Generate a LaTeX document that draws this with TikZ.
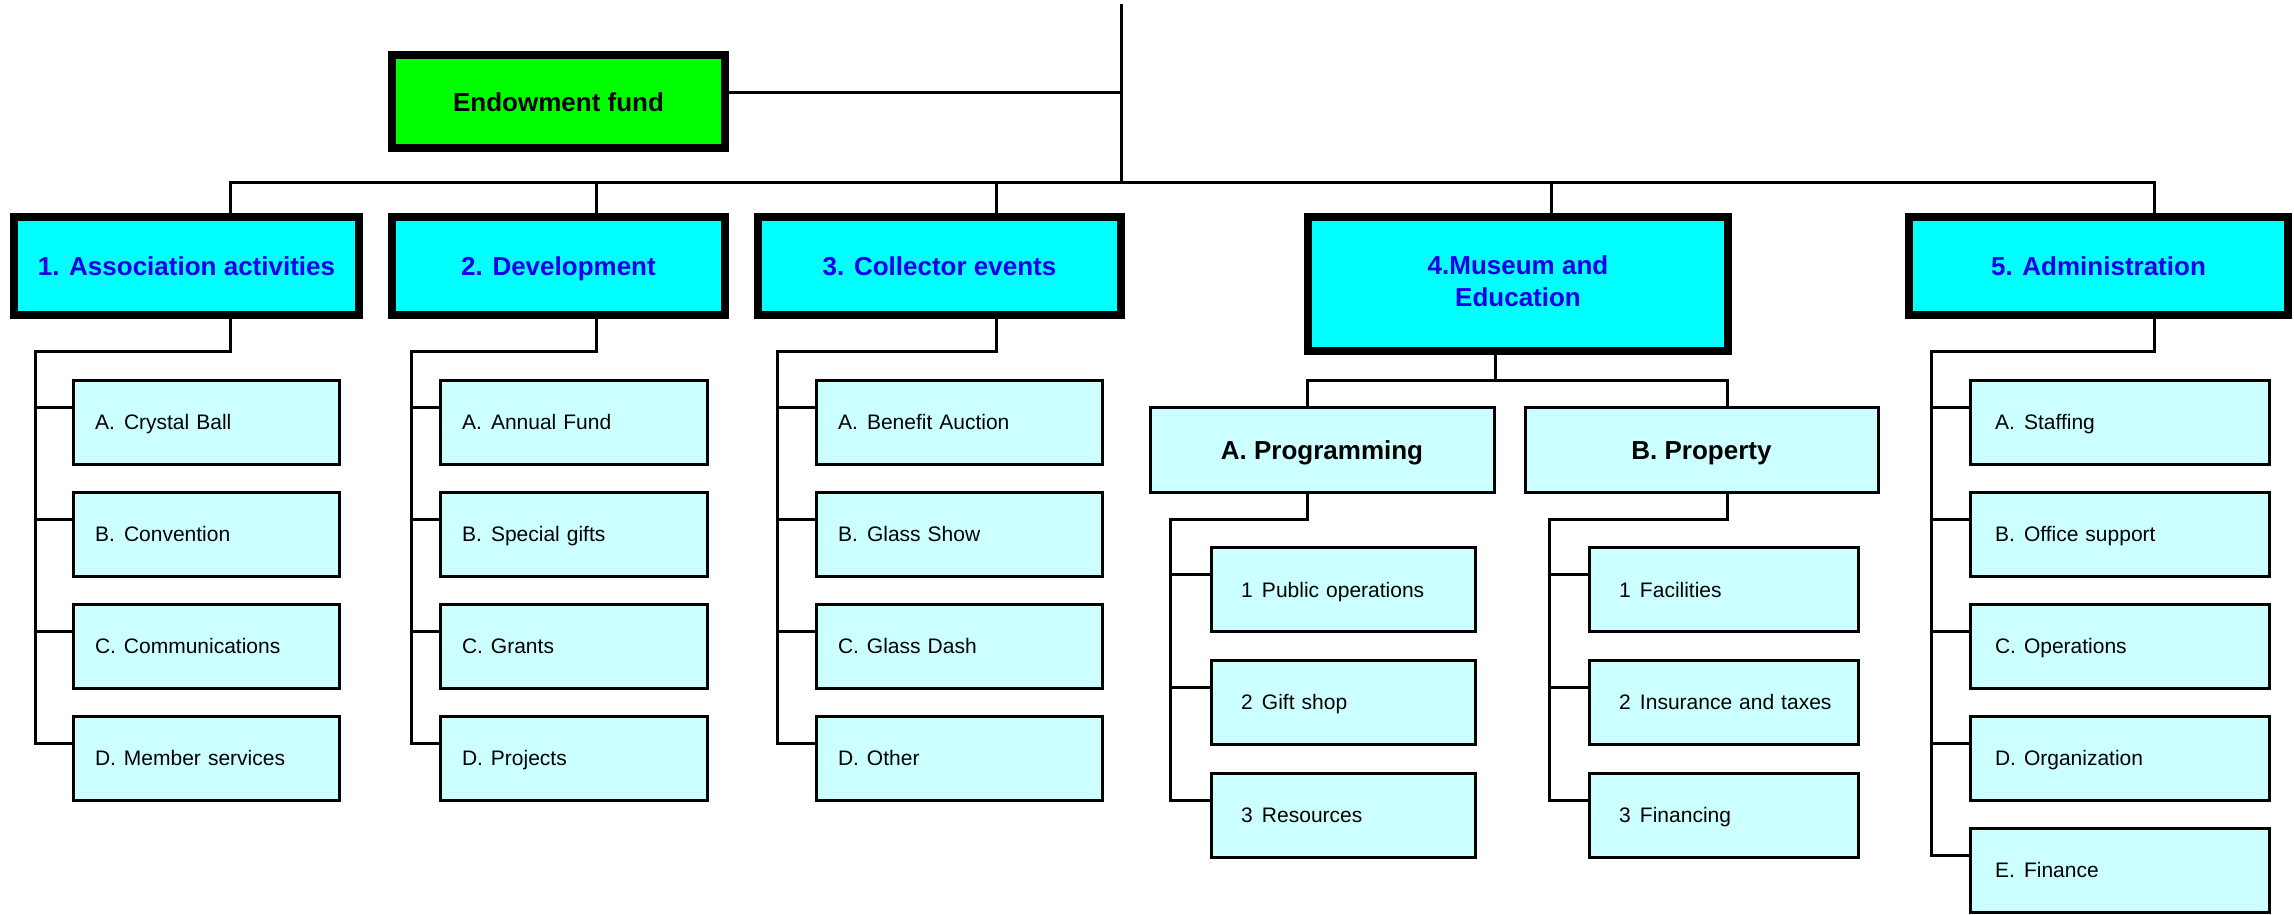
\documentclass[tikz,border=0pt]{standalone}
\usepackage{fontspec}
\setmainfont{Liberation Sans}

\definecolor{headcyan}{RGB}{0,255,255}
\definecolor{subcyan}{RGB}{204,255,255}
\definecolor{fundgreen}{RGB}{0,255,0}
\definecolor{headblue}{RGB}{24,0,232}

\newcommand{\orgitem}[2]{\makebox[29pt][l]{#1}\mbox{#2}}
\newcommand{\orgnum}[2]{\makebox[21pt][l]{#1}\mbox{#2}}

\begin{document}
\begin{tikzpicture}[x=1pt,y=-1pt,
    head/.style={shape=rectangle,draw=black,line width=8pt,fill=headcyan,text=headblue,
        font=\bfseries\fontsize{26}{32}\selectfont,inner sep=0pt,minimum height=98pt,
        text height=19pt,text depth=0pt},
    subhead/.style={shape=rectangle,draw=black,line width=3pt,fill=subcyan,
        font=\bfseries\fontsize{26}{32}\selectfont,inner sep=0pt,minimum height=85pt,
        text height=19pt,text depth=0pt},
    sub/.style={shape=rectangle,draw=black,line width=3pt,fill=subcyan,
        font=\fontsize{21}{25}\selectfont,inner xsep=22pt,inner ysep=0pt,minimum height=84pt,
        align=left,text height=15pt,text depth=0pt},
    col1/.style={sub,text width=222pt},
    col2/.style={sub,text width=223pt},
    col3/.style={sub,text width=242pt},
    col4a/.style={sub,inner xsep=30pt,text width=204pt},
    col4b/.style={sub,inner xsep=30pt,text width=209pt},
    col5/.style={sub,inner xsep=25pt,text width=249pt},
    conn/.style={-,black,line width=3pt,line cap=rect}]

    \useasboundingbox (0,0) rectangle (2294,914);

    % top level
    \node[head,fill=fundgreen,text=black,minimum width=333pt,minimum height=93pt] (fund) at (558.5,101.5) {Endowment fund};

    \node[head,minimum width=345pt] (assoc) at (186.5,266) {1. Association activities};
    \node[head,minimum width=333pt] (devel) at (558.5,266) {2. Development};
    \node[head,minimum width=363pt] (collect) at (939.5,266) {3. Collector events};
    \node[head,minimum width=420pt,minimum height=134pt,align=center,text height=44pt] (museum) at (1518,284) {4.Museum and\\Education};
    \node[head,minimum width=379pt] (admin) at (2098.5,266) {5. Administration};

    % 1. Association activities
    \node[col1] (ball) at (206,422) {\orgitem{A.}{Crystal Ball}};
    \node[col1] (conv) at (206,534) {\orgitem{B.}{Convention}};
    \node[col1] (comm) at (206,646) {\orgitem{C.}{Communications}};
    \node[col1] (member) at (206,758) {\orgitem{D.}{Member services}};

    % 2. Development
    \node[col2] (annual) at (573.5,422) {\orgitem{A.}{Annual Fund}};
    \node[col2] (gifts) at (573.5,534) {\orgitem{B.}{Special gifts}};
    \node[col2] (grants) at (573.5,646) {\orgitem{C.}{Grants}};
    \node[col2] (proj) at (573.5,758) {\orgitem{D.}{Projects}};

    % 3. Collector events
    \node[col3] (auction) at (959,422) {\orgitem{A.}{Benefit Auction}};
    \node[col3] (show) at (959,534) {\orgitem{B.}{Glass Show}};
    \node[col3] (dash) at (959,646) {\orgitem{C.}{Glass Dash}};
    \node[col3] (other) at (959,758) {\orgitem{D.}{Other}};

    % 4. Museum and Education
    \node[subhead,minimum width=344pt] (prog) at (1322,449.5) {A. Programming};
    \node[subhead,minimum width=353pt] (prop) at (1701.5,449.5) {B. Property};

    \node[col4a] (pubops) at (1343,589.5) {\orgnum{1}{Public operations}};
    \node[col4a] (shop) at (1343,702) {\orgnum{2}{Gift shop}};
    \node[col4a] (res) at (1343,815) {\orgnum{3}{Resources}};

    \node[col4b] (facil) at (1723.5,589.5) {\orgnum{1}{Facilities}};
    \node[col4b] (insur) at (1723.5,702) {\orgnum{2}{Insurance and taxes}};
    \node[col4b] (financing) at (1723.5,815) {\orgnum{3}{Financing}};

    % 5. Administration
    \node[col5] (staff) at (2119.5,422) {\orgitem{A.}{Staffing}};
    \node[col5] (office) at (2119.5,534) {\orgitem{B.}{Office support}};
    \node[col5] (oper) at (2119.5,646) {\orgitem{C.}{Operations}};
    \node[col5] (organ) at (2119.5,758) {\orgitem{D.}{Organization}};
    \node[col5] (finance) at (2119.5,870) {\orgitem{E.}{Finance}};

    % junctions
    \coordinate (top) at (1121,5);
    \coordinate (hub) at (1121,182);
    \coordinate (fj) at (1121,92);
    \coordinate (d1) at (230,182);
    \coordinate (d2) at (596,182);
    \coordinate (d3) at (996,182);
    \coordinate (d4) at (1551,182);
    \coordinate (d5) at (2154,182);
    \coordinate (t1) at (35,351);
    \coordinate (t2) at (411,351);
    \coordinate (t3) at (777,351);
    \coordinate (t5) at (1931,351);
    \coordinate (m) at (1495,380);
    \coordinate (ma) at (1307,380);
    \coordinate (mb) at (1727,380);
    \coordinate (t4a) at (1170,519);
    \coordinate (t4b) at (1549,519);

    \draw[conn] (top) -- (hub);
    \draw[conn] (fund.east |- fj) -- (fj);
    \draw[conn] (d1) -- (d5);
    \draw[conn] (d1) -- (d1 |- assoc.north);
    \draw[conn] (d2) -- (d2 |- devel.north);
    \draw[conn] (d3) -- (d3 |- collect.north);
    \draw[conn] (d4) -- (d4 |- museum.north);
    \draw[conn] (d5) -- (d5 |- admin.north);

    \draw[conn] (assoc.south -| d1) |- (t1);
    \draw[conn] ([yshift=15pt]ball.west) -| (t1);
    \draw[conn] ([yshift=15pt]conv.west) -| (t1);
    \draw[conn] ([yshift=15pt]comm.west) -| (t1);
    \draw[conn] ([yshift=15pt]member.west) -| (t1);

    \draw[conn] (devel.south -| d2) |- (t2);
    \draw[conn] ([yshift=15pt]annual.west) -| (t2);
    \draw[conn] ([yshift=15pt]gifts.west) -| (t2);
    \draw[conn] ([yshift=15pt]grants.west) -| (t2);
    \draw[conn] ([yshift=15pt]proj.west) -| (t2);

    \draw[conn] (collect.south -| d3) |- (t3);
    \draw[conn] ([yshift=15pt]auction.west) -| (t3);
    \draw[conn] ([yshift=15pt]show.west) -| (t3);
    \draw[conn] ([yshift=15pt]dash.west) -| (t3);
    \draw[conn] ([yshift=15pt]other.west) -| (t3);

    \draw[conn] (museum.south -| m) -- (m);
    \draw[conn] (ma) -- (mb);
    \draw[conn] (ma) -- (ma |- prog.north);
    \draw[conn] (mb) -- (mb |- prop.north);
    \draw[conn] (prog.south -| ma) |- (t4a);
    \draw[conn] ([yshift=15pt]pubops.west) -| (t4a);
    \draw[conn] ([yshift=15pt]shop.west) -| (t4a);
    \draw[conn] ([yshift=15pt]res.west) -| (t4a);
    \draw[conn] (prop.south -| mb) |- (t4b);
    \draw[conn] ([yshift=15pt]facil.west) -| (t4b);
    \draw[conn] ([yshift=15pt]insur.west) -| (t4b);
    \draw[conn] ([yshift=15pt]financing.west) -| (t4b);

    \draw[conn] (admin.south -| d5) |- (t5);
    \draw[conn] ([yshift=15pt]staff.west) -| (t5);
    \draw[conn] ([yshift=15pt]office.west) -| (t5);
    \draw[conn] ([yshift=15pt]oper.west) -| (t5);
    \draw[conn] ([yshift=15pt]organ.west) -| (t5);
    \draw[conn] ([yshift=15pt]finance.west) -| (t5);
\end{tikzpicture}
\end{document}
